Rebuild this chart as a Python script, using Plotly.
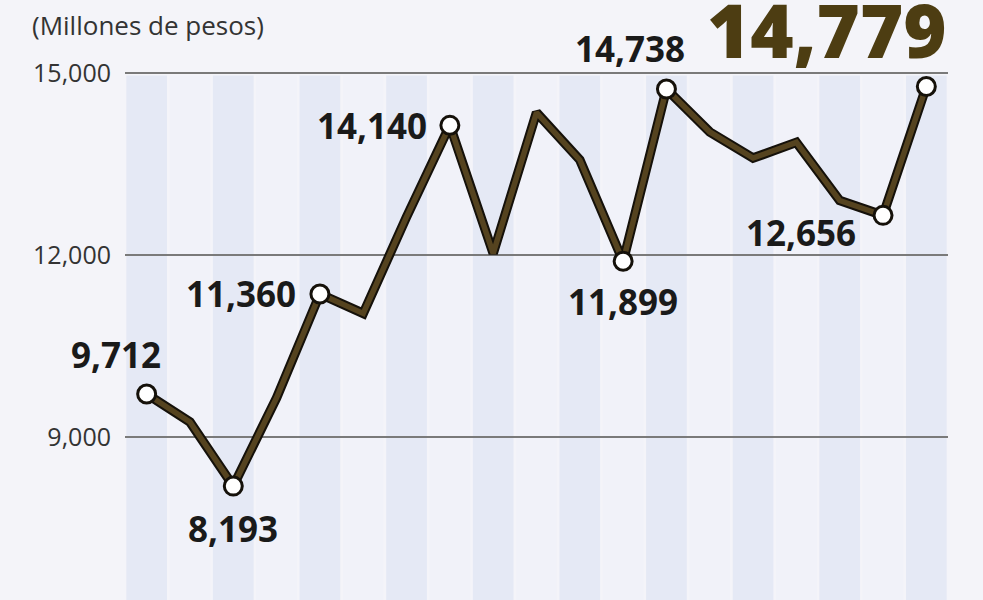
import plotly.graph_objects as go

# Data
periods = list(range(19))
values = [9712, 9250, 8193, 9650, 11360, 11040, 12630, 14140, 12030, 14350,
          13570, 11899, 14738, 14030, 13600, 13860, 12900, 12656, 14779]
labeled_idx = [0, 2, 4, 7, 11, 12, 17, 18]
y_ticks = [9000, 12000, 15000]
y_ticktext = ["9,000", "12,000", "15,000"]
unit_label = "(Millones de pesos)"

BG = "#f4f4f9"
BAND_A = "#e5e9f5"
BAND_B = "#f1f2f9"
LINE_DARK = "#15110a"
LINE_BROWN = "#55431f"

fig = go.Figure()

# alternating vertical bands
shapes = []
for i in periods:
    shapes.append(dict(type="rect", xref="x", yref="y", layer="below",
                       x0=i - 0.47, x1=i + 0.47, y0=6000, y1=14960,
                       fillcolor=BAND_A if i % 2 == 0 else BAND_B,
                       line=dict(width=0)))

fig.add_trace(go.Scatter(x=periods, y=values, mode="lines",
                         line=dict(color=LINE_DARK, width=9.5),
                         hoverinfo="skip", showlegend=False))
fig.add_trace(go.Scatter(x=periods, y=values, mode="lines",
                         line=dict(color=LINE_BROWN, width=5.5),
                         hoverinfo="skip", showlegend=False))
fig.add_trace(go.Scatter(x=[periods[i] for i in labeled_idx],
                         y=[values[i] for i in labeled_idx],
                         mode="markers",
                         marker=dict(size=18, color="white",
                                     line=dict(color=LINE_DARK, width=3)),
                         showlegend=False))

def fmt(v):
    return f"{v:,}"

lab_font = dict(family="Open Sans", size=35, color="#1a1a1a", weight=700)
# (index, xanchor, yanchor, xshift, yshift)
label_pos = {
    0: ("center", "middle", -31, 39),
    2: ("center", "middle", 0, -42),
    4: ("right", "middle", -22, 0),
    7: ("right", "middle", -21, 0),
    11: ("center", "middle", 0, -40),
    12: ("center", "middle", -36, 41),
    17: ("center", "middle", -82, -17),
}
annotations = []
for i, (xa, ya, xs, ys) in label_pos.items():
    annotations.append(dict(x=periods[i], y=values[i], xref="x", yref="y",
                            text=fmt(values[i]), showarrow=False,
                            xanchor=xa, yanchor=ya, xshift=xs, yshift=ys,
                            font=lab_font))
last = len(values) - 1
annotations.append(dict(x=periods[last], y=values[last], xref="x", yref="y",
                        text=fmt(values[last]), showarrow=False,
                        xanchor="right", yanchor="middle", xshift=23, yshift=57,
                        font=dict(family="Open Sans", size=74, color="#4d3d12",
                                  weight=800)))
annotations.append(dict(x=0, y=1, xref="paper", yref="paper", text=unit_label,
                        showarrow=False, xanchor="left", yanchor="middle",
                        xshift=-95, yshift=36,
                        font=dict(family="Open Sans", size=26, color="#333333")))

fig.update_layout(
    width=983, height=600,
    margin=dict(l=125, r=35, t=61, b=0),
    paper_bgcolor=BG, plot_bgcolor=BG,
    shapes=shapes, annotations=annotations,
    xaxis=dict(range=[-0.5, 18.5], showgrid=False, zeroline=False,
               showticklabels=False, ticks=""),
    yaxis=dict(range=[6316, 15200], tickvals=y_ticks, ticktext=y_ticktext,
               showgrid=True, gridcolor="#7a7a7a", gridwidth=1.5,
               zeroline=False, ticks="outside", ticklen=8,
               tickcolor="rgba(0,0,0,0)",
               tickfont=dict(family="Open Sans", size=25, color="#333333")),
)

fig.write_html(
    "out.html",
    config={"displayModeBar": False},
    post_script=("document.body.style.margin='0';"
                 "document.body.style.background='" + BG + "';"),
)
